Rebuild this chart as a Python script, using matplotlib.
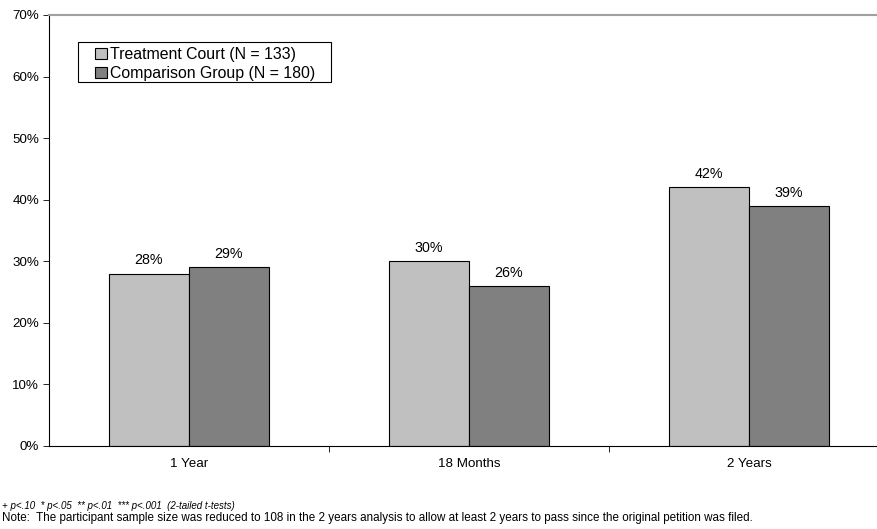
import matplotlib.pyplot as plt
from matplotlib.patches import Rectangle
import numpy as np

plt.rcParams['font.family'] = ['Liberation Sans', 'DejaVu Sans']

categories = ["1 Year", "18 Months", "2 Years"]
treatment = [28, 30, 42]
comparison = [29, 26, 39]
series_names = ["Treatment Court (N = 133)", "Comparison Group (N = 180)"]

fig = plt.figure(figsize=(8.78, 5.29), dpi=100)
# plot area runs a little past the right edge of the figure
ax = fig.add_axes([0.0558, 0.157, 0.9567, 0.8147])

x = np.arange(len(categories))
w = 0.2857
b1 = ax.bar(x - w / 2, treatment, w, color="#c0c0c0", edgecolor="black", linewidth=0.8, label=series_names[0])
b2 = ax.bar(x + w / 2, comparison, w, color="#808080", edgecolor="black", linewidth=0.8, label=series_names[1])

for bars, vals in [(b1, treatment), (b2, comparison)]:
    for r, v in zip(bars, vals):
        ax.text(r.get_x() + r.get_width() / 2, v + 1.0, f"{v}%", ha="center", va="bottom", fontsize=10.3)

ax.set_xlim(-0.5, 2.5)
ax.set_ylim(0, 70)
ax.set_yticks(range(0, 71, 10))
ax.set_yticklabels([f"{t}%" for t in range(0, 71, 10)], fontsize=9.6)
ax.set_xticks(x)
ax.set_xticklabels(categories, fontsize=9.6)
ax.tick_params(axis="x", length=0, pad=9)
ax.set_xticks([0.5, 1.5], minor=True)
ax.tick_params(axis="x", which="minor", length=4, width=0.6)
ax.tick_params(axis="y", length=4, width=0.6, pad=3)

ax.spines["right"].set_visible(False)
ax.spines["top"].set_color("#a0a0a0")
ax.spines["top"].set_linewidth(1.5)
ax.spines["left"].set_linewidth(0.8)
ax.spines["bottom"].set_linewidth(0.8)

# legend box drawn on its own so the padding can be wider than the legend allows
ax.add_patch(Rectangle((0.0345, 0.8445), 0.3012, 0.0929, transform=ax.transAxes,
                       facecolor="white", edgecolor="black", linewidth=0.8, zorder=4))
leg = ax.legend(loc="upper left", bbox_to_anchor=(0.0548, 0.926), fontsize=11.4, frameon=False,
                handlelength=0.75, handleheight=0.75, handletextpad=0.2,
                labelspacing=0.25, borderpad=0, borderaxespad=0)
leg.set_zorder(5)

fig.text(0.002, 0.043, "+ p<.10  * p<.05  ** p<.01  *** p<.001  (2-tailed t-tests)", fontsize=7, style="italic", va="center")
fig.text(0.002, 0.02, "Note:  The participant sample size was reduced to 108 in the 2 years analysis to allow at least 2 years to pass since the original petition was filed.",
         fontsize=8.4, va="center")

fig.savefig("out.png", dpi=100)
